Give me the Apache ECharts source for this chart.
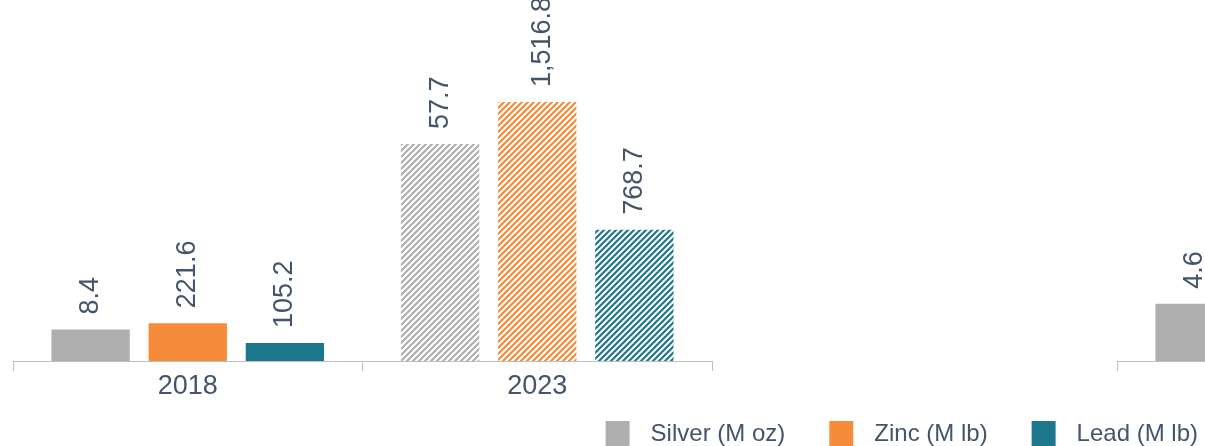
<!DOCTYPE html>
<html>
<head>
<meta charset="utf-8">
<script src="https://cdn.jsdelivr.net/npm/echarts@6/dist/echarts.min.js"></script>
<style>
  html, body { margin: 0; padding: 0; background: #fff; }
  #chart { width: 1205px; height: 446px; }
</style>
</head>
<body>
<div id="chart"></div>
<script>
// data
const years = ['2018', '2023'];
const silverA = [8.4, 57.7];
const zincA = [221.6, 1516.8];
const leadA = [105.2, 768.7];
// second panel, only its first silver bar is in view
const silverB = [4.6, null];
const zincB = [null, null];
const leadB = [null, null];

const colors = { silver: '#afafaf', zinc: '#f68b3a', lead: '#1d778c' };
const textColor = '#44546a';
const font = 'Liberation Sans';
const HATCHED = 1; // 2023 bars are striped

const stripes = (color) => {
  const s = 6;
  const c = document.createElement('canvas');
  c.width = s;
  c.height = s;
  const ctx = c.getContext('2d');
  ctx.fillStyle = '#fff';
  ctx.fillRect(0, 0, s, s);
  ctx.strokeStyle = color;
  ctx.lineWidth = 2.2;
  ctx.beginPath();
  ctx.moveTo(-1, s + 1); ctx.lineTo(s + 1, -1);
  ctx.moveTo(-s / 2 - 1, s / 2 + 1); ctx.lineTo(s / 2 + 1, -s / 2 - 1);
  ctx.moveTo(s / 2 - 1, s * 1.5 + 1); ctx.lineTo(s * 1.5 + 1, s / 2 - 1);
  ctx.stroke();
  return { image: c, repeat: 'repeat' };
};

const toData = (values, color) =>
  values.map((v, i) =>
    i === HATCHED && v != null ? { value: v, itemStyle: { color: stripes(color) } } : v
  );

const label = {
  show: true,
  position: 'top',
  rotate: 90,
  align: 'left',
  verticalAlign: 'middle',
  distance: 15,
  color: textColor,
  fontFamily: font,
  fontSize: 27,
  formatter: (p) => p.value.toLocaleString('en-US', { minimumFractionDigits: 1, maximumFractionDigits: 1 }),
};

const bar = (name, values, color, xIdx, yIdx) => ({
  name,
  type: 'bar',
  xAxisIndex: xIdx,
  yAxisIndex: yIdx,
  data: toData(values, color),
  itemStyle: { color },
  barGap: '24%',
  barCategoryGap: '22%',
  label,
  labelLayout: (p) => (p.labelRect.y < 2 ? { dy: 2 - p.labelRect.y } : {}),
});

const xAxis = (gridIndex) => ({
  type: 'category',
  gridIndex,
  data: years,
  axisLine: { lineStyle: { color: '#bfbfbf', width: 1 } },
  axisTick: { show: true, interval: 0, length: 10, lineStyle: { color: '#bfbfbf', width: 1 } },
  axisLabel: { color: textColor, fontFamily: font, fontSize: 27, margin: 12 },
});

const yAxis = (gridIndex, max) => ({
  type: 'value',
  gridIndex,
  min: 0,
  max,
  show: false,
  splitLine: { show: false },
});

const chart = echarts.init(document.getElementById('chart'));
chart.setOption({
  animation: false,
  legend: {
    right: 2,
    top: 416,
    itemWidth: 24,
    itemHeight: 27,
    itemGap: 44,
    icon: 'rect',
    textStyle: { color: textColor, fontFamily: font, fontSize: 24, padding: [0, 0, 0, 16] },
    data: ['Silver (M oz)', 'Zinc (M lb)', 'Lead (M lb)'],
  },
  grid: [
    { left: 13, width: 699, top: 0, bottom: 85, outerBoundsMode: 'none' },
    { left: 1117, width: 699, top: 0, bottom: 85, outerBoundsMode: 'none' },
  ],
  xAxis: [xAxis(0), xAxis(1)],
  yAxis: [yAxis(0, 96), yAxis(0, 2114), yAxis(1, 29), yAxis(1, 2114)],
  series: [
    bar('Silver (M oz)', silverA, colors.silver, 0, 0),
    bar('Zinc (M lb)', zincA, colors.zinc, 0, 1),
    bar('Lead (M lb)', leadA, colors.lead, 0, 1),
    bar('Silver (M oz)', silverB, colors.silver, 1, 2),
    bar('Zinc (M lb)', zincB, colors.zinc, 1, 3),
    bar('Lead (M lb)', leadB, colors.lead, 1, 3),
  ],
});
</script>
</body>
</html>
